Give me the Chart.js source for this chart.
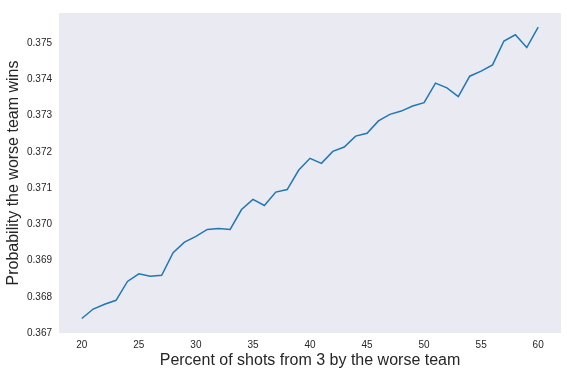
<!DOCTYPE html>
<html>
<head>
<meta charset="utf-8">
<script src="https://cdn.jsdelivr.net/npm/chart.js@4"></script>
<style>
  html, body { margin: 0; padding: 0; background: #fff; }
  #wrap { width: 567px; height: 375px; }
</style>
</head>
<body>
<div id="wrap"><canvas id="myChart" width="567" height="375"></canvas></div>
<script>
// percent of shots from 3 by the worse team
const percents = [20, 21, 22, 23, 24, 25, 26, 27, 28, 29, 30, 31, 32, 33, 34, 35, 36, 37, 38, 39, 40,
  41, 42, 43, 44, 45, 46, 47, 48, 49, 50, 51, 52, 53, 54, 55, 56, 57, 58, 59, 60];
// probability the worse team wins
const winProb = [0.36741, 0.36767, 0.36780, 0.36791, 0.36843, 0.36864, 0.36857, 0.36860, 0.36922, 0.36951,
  0.36967, 0.36986, 0.36989, 0.36986, 0.37041, 0.37069, 0.37052, 0.37089, 0.37096, 0.37149,
  0.37182, 0.37168, 0.37201, 0.37213, 0.37243, 0.37251, 0.37285, 0.37303, 0.37312, 0.37326,
  0.37335, 0.37389, 0.37376, 0.37352, 0.37408, 0.37422, 0.37439, 0.37505, 0.37522, 0.37487, 0.37543];
const xTicks = [20, 25, 30, 35, 40, 45, 50, 55, 60];
const yTicks = [0.367, 0.368, 0.369, 0.370, 0.371, 0.372, 0.373, 0.374, 0.375];

const font = "'Liberation Sans', Arial, sans-serif";

// seaborn-like panel background
const panelBg = {
  id: 'panelBg',
  beforeDraw(chart) {
    const { ctx, chartArea: a } = chart;
    ctx.save();
    ctx.fillStyle = '#EAEAF2';
    ctx.fillRect(a.left, a.top, a.right - a.left, a.bottom - a.top);
    ctx.restore();
  }
};

const ctx = document.getElementById('myChart').getContext('2d');
new Chart(ctx, {
  type: 'line',
  data: {
    datasets: [{
      data: percents.map((p, i) => ({ x: p, y: winProb[i] })),
      borderColor: '#1f77b4',
      borderWidth: 1.5,
      pointRadius: 0,
      tension: 0,
      fill: false
    }]
  },
  options: {
    responsive: false,
    animation: false,
    layout: { padding: { left: 4, top: 8, right: 6, bottom: 0 } },
    plugins: { legend: { display: false }, tooltip: { enabled: false } },
    scales: {
      x: {
        type: 'linear',
        min: 18,
        max: 62,
        afterBuildTicks: (axis) => { axis.ticks = xTicks.map(v => ({ value: v })); },
        afterFit: (axis) => { axis.height = 42; },
        grid: { display: false, drawTicks: false },
        border: { display: false },
        ticks: { color: '#262626', font: { family: font, size: 10 }, padding: 6, maxRotation: 0 },
        title: { display: true, text: 'Percent of shots from 3 by the worse team', color: '#262626',
          font: { family: font, size: 16 }, padding: { top: 0, bottom: 5 } }
      },
      y: {
        min: 0.36701,
        max: 0.37582,
        afterBuildTicks: (axis) => { axis.ticks = yTicks.map(v => ({ value: v })); },
        afterFit: (axis) => { axis.width = 55; },
        grid: { display: false, drawTicks: false },
        border: { display: false },
        ticks: { color: '#262626', font: { family: font, size: 10 }, padding: 7,
          callback: (v) => v.toFixed(3) },
        title: { display: true, text: 'Probability the worse team wins', color: '#262626',
          font: { family: font, size: 16 }, padding: { top: 0, bottom: 0 } }
      }
    }
  },
  plugins: [panelBg]
});
</script>
</body>
</html>
